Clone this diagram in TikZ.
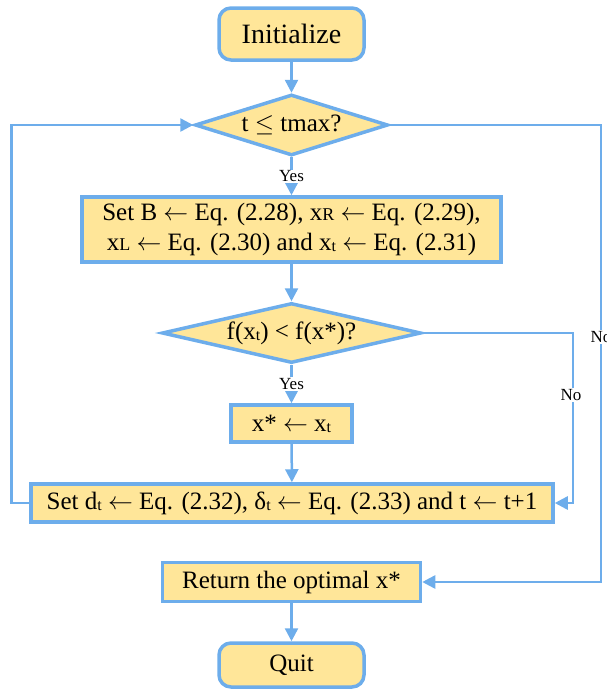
\documentclass[tikz,border=0pt]{standalone}
\usepackage{fontspec}
\setmainfont{Liberation Serif}
\definecolor{flowblue}{RGB}{109,173,235}
\definecolor{flowfill}{RGB}{255,230,153}
\usetikzlibrary{shapes.geometric,arrows.meta,positioning,calc}
\newcommand{\lsub}[1]{\raisebox{-1pt}{\fontsize{16}{16}\selectfont #1}}
\newcommand{\scap}[1]{{\fontsize{18}{18}\selectfont #1}}
\newcommand{\assign}{\ensuremath{\leftarrow}}

\begin{document}
\begin{tikzpicture}[x=1pt,y=-1pt,
    block/.style={draw=flowblue, fill=flowfill, line width=3.5pt, inner sep=0pt, align=center, font=\fontsize{25}{30}\selectfont},
    terminal/.style={block, rounded corners=12pt},
    decision/.style={block, diamond},
    flow/.style={draw=flowblue, line width=2.5pt, -{Triangle[length=13pt,width=13pt]}},
    tag/.style={fill=white, inner sep=1pt, font=\fontsize{17}{17}\selectfont}]
    \useasboundingbox (0,0) rectangle (606,689);

    % boxes, top to bottom
    \node[terminal, minimum width=145pt, minimum height=52pt, font=\fontsize{28}{30}\selectfont] (init) at (291.5,34) {Initialize};
    \node[decision, aspect=3.2, minimum width=193pt, minimum height=61pt] (test) at (291.5,125) {t $\leq$ tmax?};
    \node[block, minimum width=419pt, minimum height=65pt] (update) at (291.5,229.5)
        {Set B \assign{} Eq. (2.28), x\scap{R} \assign{} Eq. (2.29),\\ x\scap{L} \assign{} Eq. (2.30) and x\lsub{t} \assign{} Eq. (2.31)};
    \node[decision, aspect=4.3, minimum width=259pt, minimum height=60pt] (better) at (291.5,333) {f(x\lsub{t}) < f(x*)?};
    \node[block, minimum width=121pt, minimum height=37pt] (keep) at (291.5,423.5) {x* \assign{} x\lsub{t}};
    \node[block, minimum width=522pt, minimum height=38pt] (advance) at (292,503)
        {Set d\lsub{t} \assign{} Eq. (2.32), δ\lsub{t} \assign{} Eq. (2.33) and t \assign{} t+1};
    \node[block, minimum width=258pt, minimum height=39pt] (result) at (291.5,582) {Return the optimal x*};
    \node[terminal, minimum width=145pt, minimum height=44pt] (quit) at (291.5,665) {Quit};

    \coordinate (outer) at (601,0);
    \coordinate (inner) at (573,0);

    % connectors
    \draw[flow] (init) -- (test);
    \draw[flow] (test) -- node[tag] (yes1) {Yes} (update);
    \draw[flow] (update) -- (better);
    \draw[flow] (better) -- node[tag] (yes2) {Yes} (keep);
    \draw[flow] (keep) -- (advance);
    \draw[flow] (advance.west) -- ++(-18,0) |- (test.west);
    \draw[flow] (better.east) -- (better.east -| inner) |- (advance.east);
    \draw[flow] (test.east) -- (test.east -| outer) |- (result.east);
    \draw[flow] (result) -- (quit);
    \node[tag] (no1) at (571,395) {No};
    \node[tag] (no2) at (601,337) {No};
\end{tikzpicture}
\end{document}
